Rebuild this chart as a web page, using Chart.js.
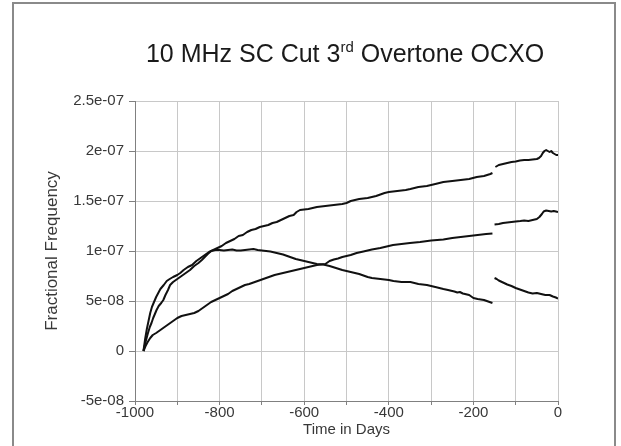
<!DOCTYPE html>
<html><head><meta charset="utf-8">
<script src="https://cdn.jsdelivr.net/npm/chart.js@4.4.1/dist/chart.umd.min.js"></script>
<style>html,body{margin:0;padding:0;background:#fff}#wrap{width:621px;height:446px;position:relative}</style>
</head><body><div id="wrap"><canvas id="c" width="621" height="446"></canvas></div>
<script>
const titleMain = '10 MHz SC Cut 3';
const titleSup = 'rd';
const titleRest = ' Overtone OCXO';
const xAxisTitle = 'Time in Days';
const yAxisTitle = 'Fractional Frequency';
const xTickLabels = ['-1000','','-800','','-600','','-400','','-200','','0'];
const yTickLabels = ['-5e-08','0','5e-08','1e-07','1.5e-07','2e-07','2.5e-07'];

// Series A (upper curve)
const dayA = [-980,-976,-972,-968,-964,-960,-955,-950,-945,-940,-932,-925,-918,-910,-900,-893,-885,-875,-865,-855,-845,-835,-825,-815,-805,-795,-785,-775,-765,-755,-745,-735,-725,-715,-705,-695,-685,-675,-665,-655,-645,-635,-625,-618,-610,-590,-570,-550,-530,-510,-500,-490,-470,-450,-430,-410,-400,-380,-360,-349,-330,-310,-290,-271,-250,-230,-210,-192,-175,-160,-155,
  -152,
  -148,-140,-130,-120,-110,-100,-90,-80,-70,-60,-50,-45,-40,-36,-32,-28,-24,-20,-16,-12,-8,-4,0];
const fracA = [0,12e-9,22e-9,30e-9,38e-9,44e-9,49e-9,54e-9,58e-9,62e-9,66e-9,70e-9,72e-9,74e-9,76e-9,78e-9,81e-9,84e-9,86e-9,90e-9,93e-9,96e-9,99e-9,101e-9,103e-9,105e-9,108e-9,110e-9,112e-9,115e-9,116e-9,119e-9,121e-9,122e-9,124e-9,125e-9,126e-9,128e-9,129e-9,131e-9,133e-9,135e-9,136e-9,139e-9,141e-9,142e-9,144e-9,145e-9,146e-9,147e-9,148e-9,150e-9,152e-9,153e-9,155e-9,158e-9,159e-9,160e-9,161e-9,162e-9,164e-9,165e-9,167e-9,169e-9,170e-9,171e-9,172e-9,174e-9,175e-9,177e-9,178e-9,
  null,
  184e-9,186e-9,187e-9,188e-9,189e-9,189.5e-9,190.5e-9,191e-9,191e-9,191.5e-9,192e-9,193e-9,195e-9,198e-9,200e-9,201e-9,200e-9,199e-9,200e-9,198e-9,197e-9,196e-9,196e-9];

// Series B (rises then declines)
const dayB = [-980,-975,-970,-965,-961,-957,-953,-949,-944,-938,-933,-928,-922,-917,-910,-900,-890,-880,-870,-860,-850,-842,-835,-828,-820,-810,-800,-790,-780,-770,-760,-750,-740,-730,-720,-710,-700,-690,-680,-670,-660,-650,-640,-630,-620,-610,-600,-590,-580,-570,-555,-540,-525,-510,-500,-490,-470,-450,-440,-420,-400,-389,-370,-349,-330,-310,-290,-271,-260,-245,-238,-232,-225,-210,-200,-190,-175,-165,-155,
  -152,
  -150,-145,-140,-130,-120,-110,-100,-90,-80,-70,-60,-50,-40,-30,-20,-12,-5,0];
const fracB = [0,9e-9,17e-9,24e-9,28e-9,33e-9,37e-9,41e-9,45e-9,48e-9,51e-9,56e-9,61e-9,66e-9,69e-9,72e-9,75e-9,78e-9,81e-9,85e-9,88e-9,91e-9,94e-9,97e-9,100e-9,101e-9,101e-9,100.5e-9,101e-9,101.5e-9,100.5e-9,100.5e-9,101e-9,101.5e-9,102e-9,101e-9,100.5e-9,100e-9,99.5e-9,98.5e-9,97.5e-9,96.5e-9,95e-9,93.5e-9,92e-9,91e-9,90e-9,89e-9,88e-9,87e-9,86.5e-9,85e-9,83e-9,81e-9,80e-9,79e-9,77e-9,74e-9,73e-9,72e-9,71e-9,70e-9,69e-9,69e-9,67e-9,66e-9,64e-9,62e-9,61e-9,59.5e-9,58.5e-9,59e-9,57.5e-9,56e-9,53e-9,52e-9,51e-9,49.5e-9,48e-9,
  null,
  73e-9,72e-9,70.5e-9,68.5e-9,66.5e-9,65e-9,63e-9,61.5e-9,60e-9,58.5e-9,57.5e-9,58e-9,57e-9,56e-9,56e-9,54.5e-9,53.5e-9,52.5e-9];

// Series C (slow steady rise)
const dayC = [-980,-975,-970,-964,-958,-950,-940,-930,-920,-910,-900,-890,-880,-870,-860,-850,-840,-830,-820,-810,-800,-790,-780,-770,-760,-750,-740,-730,-720,-710,-700,-690,-680,-670,-660,-650,-640,-630,-620,-610,-600,-590,-580,-570,-560,-550,-540,-530,-520,-510,-500,-490,-476,-460,-440,-420,-405,-390,-370,-350,-326,-300,-271,-250,-230,-210,-190,-170,-155,
  -152,
  -150,-140,-130,-120,-110,-100,-89,-80,-70,-60,-50,-44,-38,-34,-28,-22,-16,-10,-5,0];
const fracC = [0,5e-9,9e-9,13e-9,16e-9,18e-9,21e-9,24e-9,27e-9,30e-9,33e-9,35e-9,36e-9,37e-9,38e-9,40e-9,43e-9,46e-9,49e-9,51e-9,53e-9,55e-9,57e-9,60e-9,62e-9,64e-9,66e-9,67e-9,68.5e-9,70e-9,71.5e-9,73e-9,74.5e-9,76e-9,77e-9,78e-9,79e-9,80e-9,81e-9,82e-9,83e-9,84e-9,85e-9,86e-9,86.5e-9,87e-9,90e-9,91.5e-9,92.5e-9,94e-9,95e-9,96e-9,98e-9,99.5e-9,101.5e-9,103e-9,104.5e-9,106e-9,107e-9,108e-9,109e-9,110.5e-9,111.5e-9,113e-9,114e-9,115e-9,116e-9,117e-9,117.5e-9,
  null,
  126.5e-9,127e-9,128e-9,128.5e-9,129e-9,129.5e-9,130e-9,130.5e-9,130e-9,131e-9,132e-9,134e-9,137e-9,139.5e-9,140.5e-9,140e-9,139.5e-9,140e-9,139.5e-9,139e-9];

const toPts = (xs, ys) => xs.map((x, i) => ({x: x, y: ys[i]}));

const lineStyle = {borderColor:'#111', borderWidth:2, pointRadius:0, tension:0, fill:false, spanGaps:false, borderJoinStyle:'round'};

const framePlugin = {
  id:'frame',
  beforeDraw(chart){
    const ctx = chart.ctx;
    ctx.save();
    ctx.fillStyle = '#fff';
    ctx.fillRect(0,0,chart.width,chart.height);
    ctx.strokeStyle = '#8a8a8a';
    ctx.lineWidth = 2;
    ctx.strokeRect(13,3,602,470);
    ctx.restore();
  },
  afterDraw(chart){
    const ctx = chart.ctx;
    ctx.save();
    ctx.fillStyle = '#1a1a1a';
    ctx.textBaseline = 'alphabetic';
    ctx.textAlign = 'left';
    const mainFont = '25px "Liberation Sans", Arial, sans-serif';
    const supFont = '15px "Liberation Sans", Arial, sans-serif';
    ctx.font = mainFont;
    const w1 = ctx.measureText(titleMain).width;
    const w3 = ctx.measureText(titleRest).width;
    ctx.font = supFont;
    const w2 = ctx.measureText(titleSup).width;
    const total = w1 + w2 + w3;
    let x = 345 - total/2;
    const base = 62;
    ctx.font = mainFont;
    ctx.fillText(titleMain, x, base);
    x += w1;
    ctx.font = supFont;
    ctx.fillText(titleSup, x, base - 10);
    x += w2;
    ctx.font = mainFont;
    ctx.fillText(titleRest, x, base);
    ctx.restore();
  }
};

const tickFont = {family:'"Liberation Sans", Arial, sans-serif', size:15};
const xTitleFont = {family:'"Liberation Sans", Arial, sans-serif', size:15};
const yTitleFont = {family:'"Liberation Sans", Arial, sans-serif', size:17};

new Chart(document.getElementById('c'), {
  type:'line',
  data:{datasets:[
    Object.assign({label:'A', data:toPts(dayA, fracA)}, lineStyle),
    Object.assign({label:'B', data:toPts(dayB, fracB)}, lineStyle),
    Object.assign({label:'C', data:toPts(dayC, fracC)}, lineStyle)
  ]},
  options:{
    responsive:false, animation:false, devicePixelRatio:1,
    layout:{padding:{top:101, right:63, bottom:0, left:0}},
    plugins:{legend:{display:false}, title:{display:false}, tooltip:{enabled:false}},
    scales:{
      x:{type:'linear', min:-1000, max:0,
        afterFit(s){ s.height = 45; },
        ticks:{stepSize:100, autoSkip:false, maxRotation:0, padding:-1, color:'#383838', font:tickFont,
          callback:(v,i)=>xTickLabels[i]},
        grid:{color:'#c8c8c8', tickColor:'#808080', tickLength:4, lineWidth:1},
        border:{color:'#808080', width:1},
        title:{display:true, text:xAxisTitle, color:'#383838', font:xTitleFont, padding:{top:0,bottom:7}}
      },
      y:{min:-5e-8, max:2.5e-7,
        afterFit(s){ s.width = 135; },
        ticks:{stepSize:5e-8, autoSkip:false, padding:5, color:'#383838', font:tickFont,
          callback:(v,i)=>yTickLabels[i]},
        grid:{color:'#c8c8c8', tickColor:'#808080', tickLength:6, lineWidth:1},
        border:{color:'#808080', width:1},
        title:{display:true, text:yAxisTitle, color:'#383838', font:yTitleFont, padding:{top:42,bottom:0}}
      }
    }
  },
  plugins:[framePlugin]
});
</script>
</body></html>
